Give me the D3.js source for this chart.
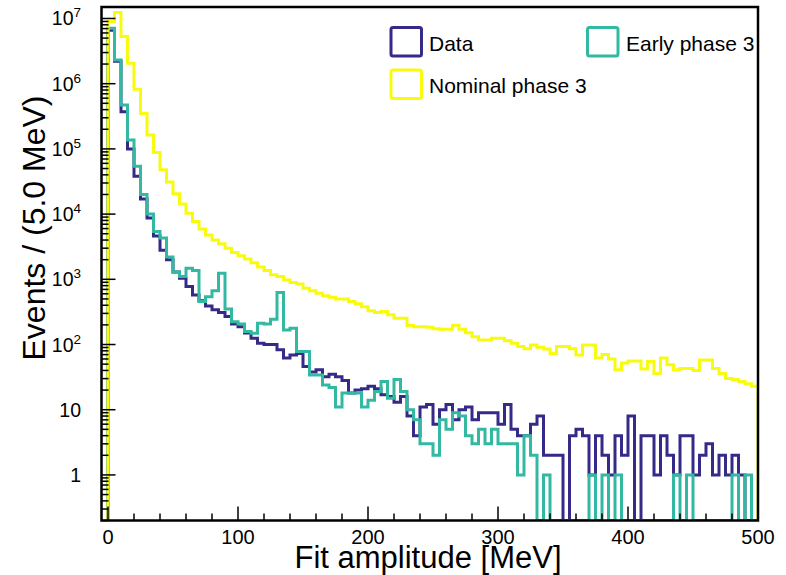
<!DOCTYPE html>
<html><head><meta charset="utf-8">
<script src="https://cdn.jsdelivr.net/npm/d3@7"></script>
<style>
html,body{margin:0;padding:0;background:#fff}
svg{display:block}
text{font-family:"Liberation Sans",Arial,Helvetica,sans-serif;fill:#000}
</style>
</head><body>
<svg id="c" width="786" height="575"></svg>
<script>
// ---------------- data ----------------
const binLow = 0;
const binWidth = 5; // MeV
const seriesNames = ["Data", "Early phase 3", "Nominal phase 3"];

const dataCounts = [
 6.6e6, 2.2e6, 3.7e5, 1.0e5, 3.8e4, 1.7e4, 8700, 4600, 2800, 2000,
 1300, 1040, 776, 575, 470, 390, 340, 310, 270, 207,
 188, 150, 125, 105, 100, 100, 83, 62, 69, 73,
 46, 38, 41, 32, 35, 32, 28, 18, 20, 21,
 23, 21, 17, 16, 13, 16, 8, 4, 11, 12,
 6, 10, 12, 7, 10, 11, 7, 9, 9, 9,
 6, 12, 5, 4, 4, 6, 8, 2, 2, 2,
 0, 4, 5, 4, 1, 4, 2, 1, 4, 2,
 8, 0, 4, 4, 1, 4, 2, 1, 4, 4,
 1, 2, 3, 1, 2, 1, 2, 1, 0, 0
];

const earlyPhase3 = [
 7.1e6, 2.3e6, 4.7e5, 1.37e5, 5.4e4, 2.0e4, 1.0e4, 5400, 4300, 2200,
 1300, 1100, 1480, 1360, 455, 540, 670, 1240, 350, 224,
 207, 158, 149, 211, 207, 245, 625, 167, 178, 78,
 78, 34, 34, 24, 22, 11, 18, 18, 18, 11,
 14, 19, 27, 15, 29, 19, 10, 7, 3, 3,
 2, 7, 5, 9, 8, 4, 3, 5, 3, 5,
 3, 3, 3, 1, 4, 2, 0, 1, 0, 0,
 0, 0, 0, 0, 1, 0, 1, 0, 1, 0,
 0, 0, 0, 0, 0, 0, 0, 1, 0, 1,
 0, 0, 0, 0, 0, 0, 1, 0, 1, 0
];

const nominalPhase3 = [
 9.0e6, 1.23e7, 5.3e6, 2.06e6, 8.2e5, 3.5e5, 1.64e5, 8.8e4, 4.8e4, 3.1e4,
 2.05e4, 1.43e4, 1.03e4, 7700, 5900, 4800, 4000, 3500, 3000, 2570,
 2290, 2040, 1800, 1550, 1360, 1170, 1100, 980, 890, 850,
 730, 670, 610, 560, 530, 500, 500, 455, 420, 380,
 330, 310, 320, 285, 253, 253, 195, 188, 188, 184,
 175, 172, 172, 198, 172, 152, 132, 117, 117, 125,
 125, 114, 105, 93, 86, 98, 91, 85, 73, 93,
 93, 86, 69, 98, 98, 62, 70, 60, 41, 52,
 56, 56, 42, 55, 36, 62, 49, 41, 43, 43,
 40, 58, 58, 43, 36, 30, 29, 27, 25, 23
];

const xTickValues = [0, 100, 200, 300, 400, 500];
const yTickExponents = [0, 1, 2, 3, 4, 5, 6, 7];

// ---------------- styles / layout ----------------
const colors = ["#352a87", "#33b8a1", "#f9fb0e"];
const W = 786, H = 575;
const frame = {left: 101.5, right: 758, top: 7, bottom: 520.5};

const svg = d3.select("#c");
svg.append("rect").attr("width", W).attr("height", H).attr("fill", "#fff");

const x = d3.scaleLinear().domain([-5, 500]).range([frame.left, frame.right]);
const yMin = 0.2, yMax = 1.5e7;
const y = d3.scaleLog().domain([yMin, yMax]).range([frame.bottom, frame.top]);

svg.append("clipPath").attr("id", "plotclip").append("rect")
  .attr("x", frame.left).attr("y", frame.top)
  .attr("width", frame.right - frame.left).attr("height", frame.bottom - frame.top);

function stepPoints(vals) {
  const pts = [[binLow, yMin]];
  vals.forEach((v, i) => {
    const lo = binLow + i * binWidth, hi = lo + binWidth;
    pts.push([lo, v]); pts.push([hi, v]);
  });
  pts.push([binLow + vals.length * binWidth, yMin]);
  return pts;
}
const line = d3.line()
  .x(d => x(d[0]))
  .y(d => y(Math.max(d[1], yMin)));

const gHist = svg.append("g").attr("clip-path", "url(#plotclip)");
[dataCounts, earlyPhase3, nominalPhase3].forEach((vals, k) => {
  gHist.append("path")
    .attr("d", line(stepPoints(vals)))
    .attr("fill", "none")
    .attr("stroke", colors[k])
    .attr("stroke-width", 3)
    .attr("stroke-linejoin", "miter")
    .attr("stroke-linecap", "square");
});

// ---------------- axes ----------------
const axisColor = "#000";
const gAx = svg.append("g");
const xMinor = d3.range(0, 501, 20);
xMinor.forEach(v => {
  const major = v % 100 === 0;
  gAx.append("line")
    .attr("x1", x(v)).attr("x2", x(v))
    .attr("y1", frame.bottom).attr("y2", frame.bottom - (major ? 14 : 7))
    .attr("stroke", axisColor).attr("stroke-width", 1.5);
});
xTickValues.forEach(v => {
  gAx.append("text")
    .attr("x", x(v)).attr("y", 544)
    .attr("text-anchor", "middle")
    .attr("font-size", 20)
    .text(v);
});
yTickExponents.forEach(e => {
  const v = Math.pow(10, e);
  gAx.append("line")
    .attr("x1", frame.left).attr("x2", frame.left + 14)
    .attr("y1", y(v)).attr("y2", y(v))
    .attr("stroke", axisColor).attr("stroke-width", 1.5);
});
for (let e = -1; e <= 7; e++) {
  for (let m = 2; m <= 9; m++) {
    const v = m * Math.pow(10, e);
    if (v < yMin || v > yMax) continue;
    gAx.append("line")
      .attr("x1", frame.left).attr("x2", frame.left + 7)
      .attr("y1", y(v)).attr("y2", y(v))
      .attr("stroke", axisColor).attr("stroke-width", 1.5);
  }
}
yTickExponents.forEach(e => {
  const t = gAx.append("text")
    .attr("x", 81).attr("y", y(Math.pow(10, e)) + 7)
    .attr("text-anchor", "end")
    .attr("font-size", 19.5);
  if (e === 0) t.text("1");
  else if (e === 1) t.text("10");
  else {
    t.append("tspan").text("10");
    t.append("tspan").attr("dy", -8).attr("font-size", 13.5).text(e);
  }
});

// frame
svg.append("rect")
  .attr("x", frame.left).attr("y", frame.top)
  .attr("width", frame.right - frame.left).attr("height", frame.bottom - frame.top)
  .attr("fill", "none").attr("stroke", "#000").attr("stroke-width", 2.5);

// titles
svg.append("text")
  .attr("x", 428).attr("y", 568)
  .attr("text-anchor", "middle")
  .attr("font-size", 31)
  .text("Fit amplitude [MeV]");
svg.append("text")
  .attr("transform", "translate(45,228) rotate(-90)")
  .attr("text-anchor", "middle")
  .attr("font-size", 32)
  .text("Events / (5.0 MeV)");

// ---------------- legend ----------------
const legendItems = [
  {name: seriesNames[0], color: colors[0], bx: 391, by: 27.5, tx: 429, ty: 50.5},
  {name: seriesNames[1], color: colors[1], bx: 587.5, by: 27.5, tx: 626, ty: 50.5},
  {name: seriesNames[2], color: colors[2], bx: 391, by: 70, tx: 429, ty: 93}
];
const gLeg = svg.append("g");
legendItems.forEach(it => {
  gLeg.append("rect")
    .attr("x", it.bx).attr("y", it.by)
    .attr("width", 30.5).attr("height", 28.5)
    .attr("rx", 2)
    .attr("fill", "none").attr("stroke", it.color).attr("stroke-width", 3);
  gLeg.append("text")
    .attr("x", it.tx).attr("y", it.ty)
    .attr("font-size", 21)
    .text(it.name);
});
</script>
</body></html>
